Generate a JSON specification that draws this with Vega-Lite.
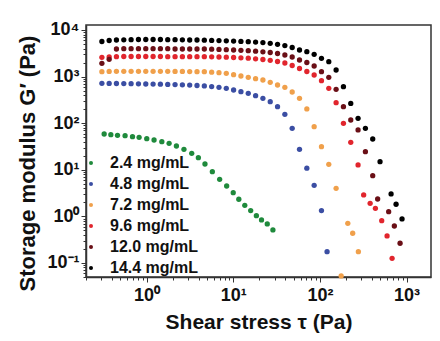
{
  "$schema": "https://vega.github.io/schema/vega-lite/v6.json",
  "width": 345,
  "height": 252,
  "autosize": {"type": "none"},
  "padding": {"left": 86, "top": 25, "right": 9, "bottom": 64},
  "background": "white",
  "config": {
    "view": {"stroke": "#333333", "strokeWidth": 1.5},
    "font": "Liberation Sans"
  },
  "datasets": {
    "pts": [
      {"s":"2.4 mg/mL","x":0.324,"y":58.6},{"s":"2.4 mg/mL","x":0.387,"y":56.6},{"s":"2.4 mg/mL","x":0.462,"y":55.0},{"s":"2.4 mg/mL","x":0.565,"y":53.9},{"s":"2.4 mg/mL","x":0.688,"y":51.3},{"s":"2.4 mg/mL","x":0.820,"y":49.8},{"s":"2.4 mg/mL","x":1.005,"y":46.5},{"s":"2.4 mg/mL","x":1.22,"y":43.6},{"s":"2.4 mg/mL","x":1.50,"y":40.1},{"s":"2.4 mg/mL","x":1.82,"y":37.0},{"s":"2.4 mg/mL","x":2.21,"y":32.4},{"s":"2.4 mg/mL","x":2.70,"y":27.5},{"s":"2.4 mg/mL","x":3.32,"y":22.6},{"s":"2.4 mg/mL","x":3.96,"y":18.2},{"s":"2.4 mg/mL","x":4.72,"y":13.3},{"s":"2.4 mg/mL","x":5.74,"y":9.10},{"s":"2.4 mg/mL","x":6.97,"y":6.25},{"s":"2.4 mg/mL","x":8.40,"y":4.49},{"s":"2.4 mg/mL","x":10.0,"y":3.23},{"s":"2.4 mg/mL","x":11.6,"y":2.33},{"s":"2.4 mg/mL","x":13.6,"y":1.73},{"s":"2.4 mg/mL","x":15.9,"y":1.33},{"s":"2.4 mg/mL","x":18.5,"y":1.035},{"s":"2.4 mg/mL","x":21.2,"y":0.837},{"s":"2.4 mg/mL","x":24.7,"y":0.687},{"s":"2.4 mg/mL","x":28.7,"y":0.511},

      {"s":"4.8 mg/mL","x":0.305,"y":718},{"s":"4.8 mg/mL","x":0.370,"y":715},{"s":"4.8 mg/mL","x":0.449,"y":711},{"s":"4.8 mg/mL","x":0.546,"y":708},{"s":"4.8 mg/mL","x":0.663,"y":704},{"s":"4.8 mg/mL","x":0.806,"y":700},{"s":"4.8 mg/mL","x":0.979,"y":694},{"s":"4.8 mg/mL","x":1.189,"y":690},{"s":"4.8 mg/mL","x":1.444,"y":687},{"s":"4.8 mg/mL","x":1.755,"y":680},{"s":"4.8 mg/mL","x":2.132,"y":673},{"s":"4.8 mg/mL","x":2.590,"y":667},{"s":"4.8 mg/mL","x":3.145,"y":657},{"s":"4.8 mg/mL","x":3.820,"y":644},{"s":"4.8 mg/mL","x":4.640,"y":629},{"s":"4.8 mg/mL","x":5.637,"y":610},{"s":"4.8 mg/mL","x":6.847,"y":589},{"s":"4.8 mg/mL","x":8.318,"y":561},{"s":"4.8 mg/mL","x":10.10,"y":516},{"s":"4.8 mg/mL","x":12.27,"y":474},{"s":"4.8 mg/mL","x":14.91,"y":438},{"s":"4.8 mg/mL","x":18.11,"y":389},{"s":"4.8 mg/mL","x":22.00,"y":342},{"s":"4.8 mg/mL","x":26.73,"y":289},{"s":"4.8 mg/mL","x":32.46,"y":226},{"s":"4.8 mg/mL","x":39.44,"y":155},{"s":"4.8 mg/mL","x":47.90,"y":77.7},{"s":"4.8 mg/mL","x":58.19,"y":27.5},{"s":"4.8 mg/mL","x":70.69,"y":10.8},{"s":"4.8 mg/mL","x":85.87,"y":4.65},{"s":"4.8 mg/mL","x":104.3,"y":1.33},{"s":"4.8 mg/mL","x":121,"y":0.175},

      {"s":"7.2 mg/mL","x":0.305,"y":1274},{"s":"7.2 mg/mL","x":0.370,"y":1290},{"s":"7.2 mg/mL","x":0.449,"y":1300},{"s":"7.2 mg/mL","x":0.546,"y":1300},{"s":"7.2 mg/mL","x":0.663,"y":1300},{"s":"7.2 mg/mL","x":0.806,"y":1300},{"s":"7.2 mg/mL","x":0.979,"y":1300},{"s":"7.2 mg/mL","x":1.189,"y":1300},{"s":"7.2 mg/mL","x":1.444,"y":1300},{"s":"7.2 mg/mL","x":1.755,"y":1300},{"s":"7.2 mg/mL","x":2.132,"y":1290},{"s":"7.2 mg/mL","x":2.590,"y":1290},{"s":"7.2 mg/mL","x":3.145,"y":1280},{"s":"7.2 mg/mL","x":3.820,"y":1274},{"s":"7.2 mg/mL","x":4.640,"y":1274},{"s":"7.2 mg/mL","x":5.637,"y":1243},{"s":"7.2 mg/mL","x":6.847,"y":1213},{"s":"7.2 mg/mL","x":8.318,"y":1177},{"s":"7.2 mg/mL","x":10.10,"y":1099},{"s":"7.2 mg/mL","x":12.27,"y":1030},{"s":"7.2 mg/mL","x":14.91,"y":966},{"s":"7.2 mg/mL","x":18.11,"y":901},{"s":"7.2 mg/mL","x":22.00,"y":845},{"s":"7.2 mg/mL","x":26.73,"y":755},{"s":"7.2 mg/mL","x":32.46,"y":660},{"s":"7.2 mg/mL","x":39.44,"y":589},{"s":"7.2 mg/mL","x":47.90,"y":467},{"s":"7.2 mg/mL","x":58.19,"y":342},{"s":"7.2 mg/mL","x":70.69,"y":202},{"s":"7.2 mg/mL","x":85.87,"y":84.1},{"s":"7.2 mg/mL","x":104.3,"y":31.3},{"s":"7.2 mg/mL","x":126.7,"y":13.1},{"s":"7.2 mg/mL","x":153.9,"y":4.01},{"s":"7.2 mg/mL","x":176,"y":0.0526},{"s":"7.2 mg/mL","x":210,"y":0.711},{"s":"7.2 mg/mL","x":239,"y":0.434},{"s":"7.2 mg/mL","x":278,"y":0.175},

      {"s":"9.6 mg/mL","x":0.305,"y":2595},{"s":"9.6 mg/mL","x":0.370,"y":2635},{"s":"9.6 mg/mL","x":0.449,"y":2673},{"s":"9.6 mg/mL","x":0.546,"y":2700},{"s":"9.6 mg/mL","x":0.663,"y":2700},{"s":"9.6 mg/mL","x":0.806,"y":2700},{"s":"9.6 mg/mL","x":0.979,"y":2700},{"s":"9.6 mg/mL","x":1.189,"y":2700},{"s":"9.6 mg/mL","x":1.444,"y":2700},{"s":"9.6 mg/mL","x":1.755,"y":2673},{"s":"9.6 mg/mL","x":2.132,"y":2673},{"s":"9.6 mg/mL","x":2.590,"y":2673},{"s":"9.6 mg/mL","x":3.145,"y":2673},{"s":"9.6 mg/mL","x":3.820,"y":2673},{"s":"9.6 mg/mL","x":4.640,"y":2673},{"s":"9.6 mg/mL","x":5.637,"y":2650},{"s":"9.6 mg/mL","x":6.847,"y":2635},{"s":"9.6 mg/mL","x":8.318,"y":2608},{"s":"9.6 mg/mL","x":10.10,"y":2570},{"s":"9.6 mg/mL","x":12.27,"y":2531},{"s":"9.6 mg/mL","x":14.91,"y":2483},{"s":"9.6 mg/mL","x":18.11,"y":2410},{"s":"9.6 mg/mL","x":22.00,"y":2328},{"s":"9.6 mg/mL","x":26.73,"y":2238},{"s":"9.6 mg/mL","x":32.46,"y":2109},{"s":"9.6 mg/mL","x":39.44,"y":1959},{"s":"9.6 mg/mL","x":47.90,"y":1731},{"s":"9.6 mg/mL","x":58.19,"y":1493},{"s":"9.6 mg/mL","x":70.69,"y":1286},{"s":"9.6 mg/mL","x":85.87,"y":1082},{"s":"9.6 mg/mL","x":104.3,"y":817},{"s":"9.6 mg/mL","x":126.7,"y":561},{"s":"9.6 mg/mL","x":153.9,"y":275},{"s":"9.6 mg/mL","x":187.0,"y":99.5},{"s":"9.6 mg/mL","x":227.1,"y":38.9},{"s":"9.6 mg/mL","x":275.8,"y":12.7},{"s":"9.6 mg/mL","x":320,"y":2.88},{"s":"9.6 mg/mL","x":380,"y":1.91},{"s":"9.6 mg/mL","x":437,"y":1.49},{"s":"9.6 mg/mL","x":517,"y":0.809},{"s":"9.6 mg/mL","x":596,"y":0.380},{"s":"9.6 mg/mL","x":681,"y":0.126},

      {"s":"12.0 mg/mL","x":0.305,"y":1929},{"s":"12.0 mg/mL","x":0.370,"y":2351},{"s":"12.0 mg/mL","x":0.449,"y":3911},{"s":"12.0 mg/mL","x":0.546,"y":3971},{"s":"12.0 mg/mL","x":0.663,"y":3971},{"s":"12.0 mg/mL","x":0.806,"y":3971},{"s":"12.0 mg/mL","x":0.979,"y":3971},{"s":"12.0 mg/mL","x":1.189,"y":3971},{"s":"12.0 mg/mL","x":1.444,"y":3971},{"s":"12.0 mg/mL","x":1.755,"y":3971},{"s":"12.0 mg/mL","x":2.132,"y":3911},{"s":"12.0 mg/mL","x":2.590,"y":3911},{"s":"12.0 mg/mL","x":3.145,"y":3911},{"s":"12.0 mg/mL","x":3.820,"y":3911},{"s":"12.0 mg/mL","x":4.640,"y":3911},{"s":"12.0 mg/mL","x":5.637,"y":3873},{"s":"12.0 mg/mL","x":6.847,"y":3834},{"s":"12.0 mg/mL","x":8.318,"y":3778},{"s":"12.0 mg/mL","x":10.10,"y":3722},{"s":"12.0 mg/mL","x":12.27,"y":3666},{"s":"12.0 mg/mL","x":14.91,"y":3594},{"s":"12.0 mg/mL","x":18.11,"y":3508},{"s":"12.0 mg/mL","x":22.00,"y":3406},{"s":"12.0 mg/mL","x":26.73,"y":3289},{"s":"12.0 mg/mL","x":32.46,"y":3133},{"s":"12.0 mg/mL","x":39.44,"y":2908},{"s":"12.0 mg/mL","x":47.90,"y":2635},{"s":"12.0 mg/mL","x":58.19,"y":2271},{"s":"12.0 mg/mL","x":70.69,"y":2008},{"s":"12.0 mg/mL","x":85.87,"y":1688},{"s":"12.0 mg/mL","x":104.3,"y":1274},{"s":"12.0 mg/mL","x":126.7,"y":966},{"s":"12.0 mg/mL","x":153.9,"y":534},{"s":"12.0 mg/mL","x":187.0,"y":226},{"s":"12.0 mg/mL","x":227.1,"y":117},{"s":"12.0 mg/mL","x":275.8,"y":71.5},{"s":"12.0 mg/mL","x":335.1,"y":24.5},{"s":"12.0 mg/mL","x":407.0,"y":7.47},{"s":"12.0 mg/mL","x":464,"y":2.36},{"s":"12.0 mg/mL","x":622,"y":1.26},{"s":"12.0 mg/mL","x":723,"y":0.622},{"s":"12.0 mg/mL","x":842,"y":0.265},

      {"s":"14.4 mg/mL","x":0.305,"y":5663},{"s":"14.4 mg/mL","x":0.370,"y":5955},{"s":"14.4 mg/mL","x":0.449,"y":6100},{"s":"14.4 mg/mL","x":0.546,"y":6150},{"s":"14.4 mg/mL","x":0.663,"y":6194},{"s":"14.4 mg/mL","x":0.806,"y":6252},{"s":"14.4 mg/mL","x":0.979,"y":6252},{"s":"14.4 mg/mL","x":1.189,"y":6252},{"s":"14.4 mg/mL","x":1.444,"y":6252},{"s":"14.4 mg/mL","x":1.755,"y":6194},{"s":"14.4 mg/mL","x":2.132,"y":6194},{"s":"14.4 mg/mL","x":2.590,"y":6150},{"s":"14.4 mg/mL","x":3.145,"y":6100},{"s":"14.4 mg/mL","x":3.820,"y":6100},{"s":"14.4 mg/mL","x":4.640,"y":6040},{"s":"14.4 mg/mL","x":5.637,"y":5984},{"s":"14.4 mg/mL","x":6.847,"y":5927},{"s":"14.4 mg/mL","x":8.318,"y":5866},{"s":"14.4 mg/mL","x":10.10,"y":5778},{"s":"14.4 mg/mL","x":12.27,"y":5692},{"s":"14.4 mg/mL","x":14.91,"y":5610},{"s":"14.4 mg/mL","x":18.11,"y":5500},{"s":"14.4 mg/mL","x":22.00,"y":5366},{"s":"14.4 mg/mL","x":26.73,"y":5185},{"s":"14.4 mg/mL","x":32.46,"y":4933},{"s":"14.4 mg/mL","x":39.44,"y":4627},{"s":"14.4 mg/mL","x":47.90,"y":4210},{"s":"14.4 mg/mL","x":58.19,"y":3722},{"s":"14.4 mg/mL","x":70.69,"y":3422},{"s":"14.4 mg/mL","x":85.87,"y":3013},{"s":"14.4 mg/mL","x":104.3,"y":2471},{"s":"14.4 mg/mL","x":126.7,"y":2089},{"s":"14.4 mg/mL","x":153.9,"y":1386},{"s":"14.4 mg/mL","x":187.0,"y":607},{"s":"14.4 mg/mL","x":227.1,"y":265},{"s":"14.4 mg/mL","x":275.8,"y":127},{"s":"14.4 mg/mL","x":335.1,"y":77.7},{"s":"14.4 mg/mL","x":407.0,"y":45.8},{"s":"14.4 mg/mL","x":494.4,"y":14.9},{"s":"14.4 mg/mL","x":663,"y":3.03},{"s":"14.4 mg/mL","x":757,"y":1.82},{"s":"14.4 mg/mL","x":887,"y":0.88}
    ]
  },
  "data": {"name": "pts"},
  "mark": {"type": "point", "filled": true, "shape": "circle", "size": 28, "opacity": 1},
  "encoding": {
    "x": {
      "field": "x", "type": "quantitative",
      "scale": {"type": "log", "domain": [0.2, 1915], "nice": false},
      "title": "Shear stress τ (Pa)",
      "axis": {
        "values": [0.2,0.3,0.4,0.5,0.6,0.7,0.8,0.9,1,2,3,4,5,6,7,8,9,10,20,30,40,50,60,70,80,90,100,200,300,400,500,600,700,800,900,1000],
        "labelExpr": "datum.value == 1 ? '10⁰' : datum.value == 10 ? '10¹' : datum.value == 100 ? '10²' : datum.value == 1000 ? '10³' : ''",
        "labelOverlap": false,
        "labelFlush": false,
        "grid": false,
        "domainColor": "#333333", "domainWidth": 1.5,
        "tickColor": "#333333", "tickWidth": 1,
        "tickSize": {"condition": {"test": "datum.value == 1 || datum.value == 10 || datum.value == 100 || datum.value == 1000", "value": 5}, "value": 3},
        "labelFont": "Liberation Sans", "labelFontSize": 18, "labelFontWeight": "bold", "labelColor": "#111111",
        "labelPadding": 4,
        "titleFont": "Liberation Sans", "titleFontSize": 21, "titleFontWeight": "bold", "titleColor": "#111111",
        "titlePadding": 7
      }
    },
    "y": {
      "field": "y", "type": "quantitative",
      "scale": {"type": "log", "domain": [0.05, 12800], "nice": false},
      "title": "Storage modulus G′ (Pa)",
      "axis": {
        "values": [0.05,0.06,0.07,0.08,0.09,0.1,0.2,0.3,0.4,0.5,0.6,0.7,0.8,0.9,1,2,3,4,5,6,7,8,9,10,20,30,40,50,60,70,80,90,100,200,300,400,500,600,700,800,900,1000,2000,3000,4000,5000,6000,7000,8000,9000,10000],
        "labelExpr": "datum.value == 0.1 ? '10⁻¹' : datum.value == 1 ? '10⁰' : datum.value == 10 ? '10¹' : datum.value == 100 ? '10²' : datum.value == 1000 ? '10³' : datum.value == 10000 ? '10⁴' : ''",
        "labelOverlap": false,
        "labelFlush": false,
        "grid": false,
        "domainColor": "#333333", "domainWidth": 1.5,
        "tickColor": "#333333", "tickWidth": 1,
        "tickSize": {"condition": {"test": "datum.value == 0.1 || datum.value == 1 || datum.value == 10 || datum.value == 100 || datum.value == 1000 || datum.value == 10000", "value": 5}, "value": 3},
        "labelFont": "Liberation Sans", "labelFontSize": 18, "labelFontWeight": "bold", "labelColor": "#111111",
        "labelPadding": 2,
        "titleFont": "Liberation Sans", "titleFontSize": 22, "titleFontWeight": "bold", "titleColor": "#111111",
        "titlePadding": 7,
        "titleY": 138
      }
    },
    "color": {
      "field": "s", "type": "nominal",
      "scale": {
        "domain": ["2.4 mg/mL","4.8 mg/mL","7.2 mg/mL","9.6 mg/mL","12.0 mg/mL","14.4 mg/mL"],
        "range": ["#1f8a3c","#3b4ea3","#f0a04b","#e1252d","#6a0f16","#000000"]
      },
      "legend": {
        "title": null,
        "orient": "none",
        "legendX": -3,
        "legendY": 130,
        "symbolType": "circle",
        "symbolSize": 16,
        "symbolStrokeWidth": 0,
        "labelFont": "Liberation Sans",
        "labelFontSize": 16,
        "labelFontWeight": "bold",
        "labelColor": "#111111",
        "labelOffset": 11,
        "rowPadding": 5,
        "padding": 0
      }
    }
  }
}
